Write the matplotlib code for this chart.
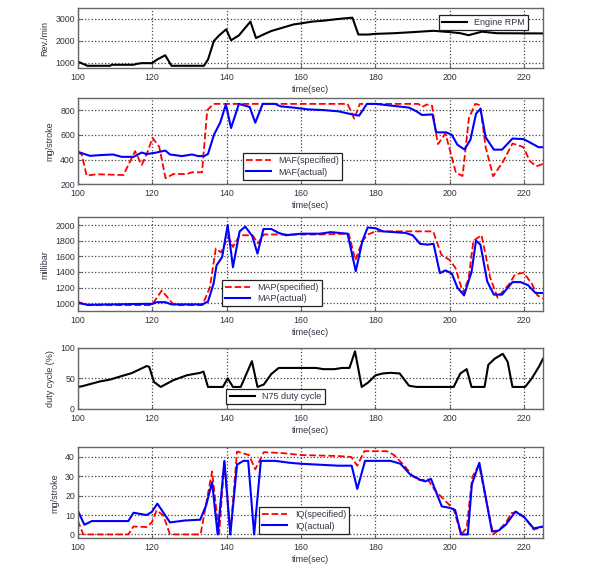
import matplotlib
matplotlib.use("Agg")
from matplotlib import pyplot as plt

# engine speed
rpm_t = [100, 101, 102.6, 108.7, 109.1, 115, 115.9, 117.2, 120, 121.2, 123.5, 125.2, 133.9, 135, 136.6, 138,
         139.9, 141.2, 143.3, 146.4, 147.9, 150, 152, 155, 158, 160, 163, 166, 170, 173.8, 175.4, 178, 180,
         185, 190, 195.6, 200, 202.8, 205, 208.6, 212.6, 225]
rpm = [1060, 985, 865, 865, 910, 910, 955, 985, 985, 1135, 1345, 865, 865, 1150, 2000, 2250,
       2530, 2030, 2250, 2880, 2130, 2300, 2450, 2600, 2750, 2800, 2880, 2920, 3000, 3060, 2290, 2290, 2320,
       2350, 2400, 2460, 2400, 2350, 2260, 2420, 2350, 2340]

# mass air flow
maf_spec_t = [100, 101.1, 102.4, 105.1, 112.3, 115.4, 117.2, 118.5, 120.1, 121.9, 123.6, 125.7, 129.3, 130.7,
              133.4, 134.8, 136.5, 172.5, 174.3, 175.8, 191.5, 192.5, 193.8, 195.2, 196.2, 196.8, 198.8, 201.6,
              203.4, 205.1, 206.8, 208.1, 209.6, 211.6, 214.2, 216.8, 219.8, 221.4, 223.2, 225]
maf_spec = [463, 440, 270, 281, 275, 468, 356, 441, 575, 503, 249, 283, 283, 297,
            297, 800, 850, 850, 730, 850, 850, 825, 845, 835, 620, 525, 610, 294,
            267, 736, 850, 840, 500, 265, 380, 530, 500, 390, 345, 365]
maf_act_t = [100, 103.3, 106, 109.5, 111.8, 115, 117.2, 118.5, 121.2, 123.5, 124.8, 128, 130.7, 132.4, 134,
             135, 136.6, 138.3, 139.8, 141.2, 143.3, 146.2, 147.7, 149.7, 153, 154.5, 158, 162, 166, 170, 173,
             175.6, 177.7, 180, 183, 186, 189, 191, 192.5, 195.3, 196.3, 199, 200.5, 202, 203.9, 205.5, 207,
             208.2, 209.6, 211.8, 214, 216.8, 219.8, 222, 223.8, 225]
maf_act = [463, 430, 436, 441, 422, 422, 457, 444, 457, 473, 441, 428, 441, 428, 428,
           445, 600, 700, 845, 655, 850, 825, 698, 850, 850, 830, 820, 805, 800, 790, 770,
           755, 850, 850, 840, 830, 820, 790, 760, 765, 620, 620, 600, 520, 481, 560, 770,
           810, 580, 480, 480, 570, 565, 530, 500, 500]

# manifold pressure
map_spec_t = [100, 102.4, 119.4, 120.1, 122.6, 125.7, 127, 133.5, 135.5, 137.1, 138.5, 140.4, 141.7, 143.5,
              147, 148.4, 150, 165, 172.8, 174.6, 176.5, 178, 180, 195.5, 197.7, 200, 201.5, 203.5, 205,
              206.3, 208.5, 210.8, 212.8, 216, 217.5, 219.8, 222, 223.5, 225]
map_spec = [1021, 975, 975, 990, 1163, 985, 975, 975, 1200, 1700, 1650, 1850, 1720, 1870,
            1870, 1765, 1880, 1880, 1890, 1550, 1800, 1880, 1920, 1920, 1620, 1550, 1450, 1130, 1310,
            1800, 1870, 1330, 1070, 1250, 1370, 1390, 1250, 1100, 1060]
map_act_t = [100, 102.8, 117.6, 120, 121.2, 123.5, 125.2, 133.5, 135, 136.5, 137.3, 138.8, 140.3, 141.7,
             143.5, 145, 146.9, 148.3, 149.9, 152, 154, 156, 158, 160, 165, 168, 172.5, 174.7, 176.5, 177.9,
             180, 182, 188, 190, 192, 194, 195.6, 197.3, 198.8, 200.5, 202, 203.8, 205.8, 207, 208.2, 210,
             211.8, 214, 216.8, 219, 221, 223, 225]
map_act = [1004, 979, 991, 991, 1013, 1013, 985, 985, 1020, 1250, 1485, 1590, 2000, 1460,
           1920, 1980, 1860, 1635, 1950, 1950, 1900, 1870, 1880, 1890, 1890, 1910, 1890, 1410, 1800, 1970,
           1960, 1920, 1900, 1870, 1760, 1750, 1760, 1385, 1420, 1380, 1200, 1100, 1400, 1800, 1750, 1280,
           1110, 1110, 1270, 1270, 1230, 1130, 1130]

# N75 valve
duty_t = [100, 101.1, 106, 108.7, 111.4, 114.5, 118.5, 119.2, 120.5, 122.3, 125.7, 129.3, 132.9, 133.8, 135,
          139, 140.3, 141.7, 143.8, 146.8, 148.3, 150, 152, 154, 164, 166, 169, 171, 173, 174.5, 176.3, 178,
          180, 182, 184, 186.5, 189, 191, 201, 202.8, 204.5, 205.8, 209.3, 210.3, 212, 214.2, 215.5, 216.8,
          220.2, 222, 224, 225]
duty = [36, 37, 45, 48, 53, 58.5, 70, 69, 44, 36, 47, 55, 59, 61, 36,
        36, 50, 36, 36, 78, 36, 40, 57, 67, 67, 65, 65, 67, 67, 94, 36, 43,
        55, 58, 59, 58, 38, 36, 36, 58, 65, 36, 36, 72, 82, 90, 77, 36,
        36, 50, 70, 82]

# injection quantity
iq_spec_t = [100, 101.5, 113.6, 115, 118.5, 119.9, 121.2, 123, 124.8, 133, 136.1, 138, 139.4, 141, 142.8,
             146, 147.7, 150, 155, 160, 170, 173.5, 175.1, 177, 183, 185, 188, 190, 192, 194, 196, 199.6,
             201, 203, 204.5, 206, 207.8, 211.6, 213, 215, 216.5, 218, 220, 222.5, 225]
iq_spec = [7.2, 0, 0, 4.1, 3.8, 6.2, 12.4, 9.8, 0, 0, 32.5, 0, 38, 0, 42.8,
           41, 33.6, 42.5, 42, 41, 40.5, 40, 35.5, 43, 43, 41, 35, 30, 28, 28.5, 22.7, 15.7,
           13, 0, 3.3, 29.6, 36, 0, 2, 6, 11, 11.5, 9, 2.5, 4]
iq_act_t = [100, 101.8, 103.8, 113.6, 115, 118.5, 119.9, 121.4, 124.8, 128.8, 132.9, 134.5, 136.1, 137.6,
            139.4, 141, 142.8, 144.5, 145.8, 147.4, 149.2, 153, 157, 160, 165, 170, 173.6, 175.1, 177.2, 184,
            186.7, 189.3, 192, 193.4, 194.9, 197.8, 200, 201.4, 203, 204.8, 205.9, 207.9, 211.3, 213.1, 215,
            217.6, 220, 222.5, 225]
iq_act = [12.4, 5, 6.9, 6.9, 11.2, 10, 11.6, 15.9, 6.2, 7.2, 7.6, 15, 27, 0,
          38, 0, 36, 38, 38, 0, 38, 38, 37, 36.5, 36, 35.5, 35.5, 23.5, 38, 38,
          36.5, 31, 28.2, 27.4, 28.7, 14.5, 13.7, 12.6, 0, 0, 26, 37, 1.5, 2, 5,
          11.8, 8.8, 3.1, 4.1]

plt.rcParams['font.family'] = ['Liberation Sans', 'DejaVu Sans']
txt = '#333344'

W, H = 600, 565
left, right = 77.7, 543
# (top, bottom) of each panel in pixels
boxes = [(8, 68.3), (97.7, 184.3), (217.3, 311), (347.7, 409), (447.3, 538.3)]

fig = plt.figure(figsize=(W / 100, H / 100), dpi=100)
axes = []
for top, bot in boxes:
    ax = fig.add_axes([left / W, 1 - bot / H, (right - left) / W, (bot - top) / H])
    axes.append(ax)


def style(ax, ylabel, ylim, yticks):
    ax.set_xlim(100, 225)
    ax.set_ylim(*ylim)
    ax.set_yticks(yticks)
    ax.set_xticks(range(100, 221, 20))
    ax.grid(True, linestyle=':', color='#444444', linewidth=0.9)
    ax.tick_params(labelsize=6.3, colors='#555555', labelcolor=txt, direction='in', length=2)
    ax.tick_params(axis='x', pad=3.5)
    ax.tick_params(axis='y', pad=2)
    for s in ax.spines.values():
        s.set_color('#666666')
        s.set_linewidth(1.0)
    ax.set_ylabel(ylabel, fontsize=6.5, color=txt, labelpad=4)
    ax.set_xlabel('time(sec)', fontsize=6.5, color=txt, labelpad=2)


def legend(ax, **kw):
    lg = ax.legend(fontsize=6.5, fancybox=False, framealpha=1, edgecolor='#222222',
                   handlelength=2.8, borderpad=0.35, labelspacing=0.25, **kw)
    lg.get_frame().set_linewidth(0.9)
    for t in lg.get_texts():
        t.set_color(txt)


ax = axes[0]
ax.plot(rpm_t, rpm, color='black', lw=1.5, label='Engine RPM')
style(ax, 'Rev./min', (750, 3500), [1000, 2000, 3000])
legend(ax, loc='upper right', bbox_to_anchor=(0.978, 0.965))

ax = axes[1]
ax.plot(maf_spec_t, maf_spec, 'r--', lw=1.3, label='MAF(specified)')
ax.plot(maf_act_t, maf_act, color='blue', lw=1.5, label='MAF(actual)')
style(ax, 'mg/stroke', (200, 900), [200, 400, 600, 800])
legend(ax, loc='lower left', bbox_to_anchor=(0.345, 0.0))

ax = axes[2]
ax.plot(map_spec_t, map_spec, 'r--', lw=1.3, label='MAP(specified)')
ax.plot(map_act_t, map_act, color='blue', lw=1.5, label='MAP(actual)')
style(ax, 'millibar', (900, 2100), [1000, 1200, 1400, 1600, 1800, 2000])
legend(ax, loc='lower left', bbox_to_anchor=(0.3, 0.0))

ax = axes[3]
ax.plot(duty_t, duty, color='black', lw=1.5, label='N75 duty cycle')
style(ax, 'duty cycle (%)', (0, 100), [0, 50, 100])
legend(ax, loc='lower left', bbox_to_anchor=(0.31, 0.0))

ax = axes[4]
ax.plot(iq_spec_t, iq_spec, 'r--', lw=1.3, label='IQ(specified)')
ax.plot(iq_act_t, iq_act, color='blue', lw=1.5, label='IQ(actual)')
style(ax, 'mg/stroke', (-2, 45), [0, 10, 20, 30, 40])
legend(ax, loc='lower left', bbox_to_anchor=(0.38, 0.0))

fig.savefig('out.png', dpi=100)
